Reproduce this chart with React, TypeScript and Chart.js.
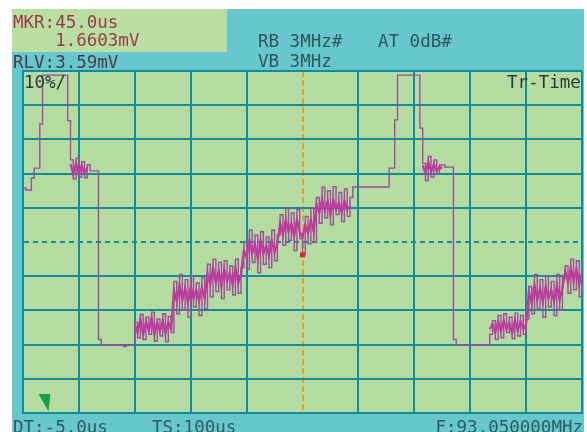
import { useEffect, useRef } from "react";
import { Chart, registerables } from "chart.js";

Chart.register(...registerables);

// Sweep and marker settings
const SWEEP_START_US = -5;
const SWEEP_SPAN_US = 100;
const SAMPLE_STEP_US = 0.5;
const RLV_MV = 3.59;
const MKR_TIME_US = 45.0;
const MKR_MV = 1.6603;

// Zero-span trace (peak samples) in % of reference level, one sample every 0.5 µs from -5 µs
const TRACE_PCT = [
  65.8, 65.2, 65.2, 68.7, 71.6, 71.6, 84.5, 98.8, 98.8, 98.8, // -5.0 .. -0.5
  98.8, 98.8, 98.8, 98.8, 98.8, 98.8, 85.5, 74.0, 68.5, 74.5, // 0.0 .. 4.5
  69.0, 73.5, 68.8, 72.5, 70.8, 70.8, 70.8, 21.5, 19.9, 19.9, // 5.0 .. 9.5
  19.9, 19.9, 19.9, 19.9, 19.9, 19.9, 19.4, 19.9, 19.9, 19.9, // 10.0 .. 14.5
  26.5, 22.0, 28.8, 21.5, 28.0, 23.0, 29.5, 21.0, 27.5, 22.5, // 15.0 .. 19.5
  29.0, 20.8, 28.2, 23.5, 38.5, 29.0, 40.5, 30.0, 39.0, 28.0, // 20.0 .. 24.5
  40.0, 31.0, 38.0, 28.5, 39.5, 30.5, 43.5, 34.0, 45.0, 35.5, // 25.0 .. 29.5
  44.0, 33.5, 44.5, 36.0, 43.0, 34.5, 45.0, 35.0, 42.5, 50.0, // 30.0 .. 34.5
  42.0, 53.5, 44.0, 52.0, 41.0, 53.0, 43.5, 51.5, 42.5, 53.5, // 35.0 .. 39.5
  44.5, 52.0, 58.0, 49.0, 60.0, 50.5, 58.5, 47.5, 59.5, 51.0, // 40.0 .. 44.5
  46.25, 57.5, 49.5, 60.0, 50.0, 63.0, 55.5, 66.0, 57.0, 65.0, // 45.0 .. 49.5
  55.0, 66.2, 58.0, 64.5, 56.0, 65.5, 57.5, 63.0, 66.1, 66.1, // 50.0 .. 54.5
  66.1, 66.1, 66.1, 66.1, 66.1, 66.1, 66.1, 66.1, 66.1, 66.1, // 55.0 .. 59.5
  66.1, 71.6, 71.6, 85.7, 98.8, 98.8, 98.8, 98.8, 98.8, 98.8, // 60.0 .. 64.5
  98.8, 98.8, 83.3, 73.0, 68.0, 75.0, 69.0, 74.0, 70.0, 72.5, // 65.0 .. 69.5
  72.5, 71.9, 71.9, 71.9, 21.5, 19.9, 19.9, 19.9, 19.9, 19.9, // 70.0 .. 74.5
  19.9, 19.9, 19.9, 19.9, 19.9, 19.9, 19.9, 23.0, 27.0, 21.5, // 75.0 .. 79.5
  28.5, 22.0, 29.0, 23.5, 28.0, 21.8, 29.2, 22.5, 28.5, 23.0, // 80.0 .. 84.5
  27.5, 37.0, 29.0, 40.5, 30.5, 39.0, 28.0, 40.0, 31.0, 38.5, // 85.0 .. 89.5
  28.5, 40.5, 30.0, 39.5, 43.0, 35.0, 45.0, 36.0, 44.5, 34.0, // 90.0 .. 94.5
  43.5, // 95.0
];

// Dense centre of the burst / staircase modulation, same time grid (null = no modulation)
const CORE_PCT = [
  null, null, null, null, null, null, null, null, null, null, // -5.0 .. -0.5
  null, null, null, null, null, null, null, 72.8, 69.8, 73.0, // 0.0 .. 4.5
  70.0, 72.5, 70.2, 71.8, null, null, null, null, null, null, // 5.0 .. 9.5
  null, null, null, null, null, null, null, null, null, null, // 10.0 .. 14.5
  26.0, 23.5, 27.5, 22.8, 26.8, 24.0, 27.8, 23.0, 26.5, 23.8, // 15.0 .. 19.5
  27.0, 23.2, 26.5, 24.5, 36.0, 32.5, 37.5, 33.0, 36.5, 32.0, // 20.0 .. 24.5
  37.0, 33.5, 36.0, 32.8, 36.8, 33.5, 41.0, 37.5, 42.5, 38.0, // 25.0 .. 29.5
  41.5, 37.0, 42.0, 38.5, 41.0, 37.5, 42.5, 38.0, 40.5, 47.5, // 30.0 .. 34.5
  45.5, 50.5, 46.5, 49.5, 45.0, 50.5, 46.5, 49.0, 46.0, 50.5, // 35.0 .. 39.5
  47.0, 49.5, 55.5, 52.0, 56.5, 53.0, 55.5, 51.5, 56.5, 53.0, // 40.0 .. 44.5
  51.5, 55.0, 52.5, 56.5, 53.0, 61.0, 58.5, 62.5, 59.0, 62.0, // 45.0 .. 49.5
  58.0, 62.5, 59.5, 61.5, 58.5, 62.0, 59.5, 60.5, null, null, // 50.0 .. 54.5
  null, null, null, null, null, null, null, null, null, null, // 55.0 .. 59.5
  null, null, null, null, null, null, null, null, null, null, // 60.0 .. 64.5
  null, null, null, 72.5, 70.0, 73.5, 70.5, 72.8, 70.8, 72.0, // 65.0 .. 69.5
  71.5, null, null, null, null, null, null, null, null, null, // 70.0 .. 74.5
  null, null, null, null, null, null, null, 24.5, 26.0, 23.5, // 75.0 .. 79.5
  26.8, 23.8, 27.0, 24.5, 26.5, 23.2, 27.2, 24.0, 26.8, 24.5, // 80.0 .. 84.5
  26.0, 35.5, 32.0, 37.5, 33.0, 36.5, 32.5, 37.0, 33.5, 36.0, // 85.0 .. 89.5
  32.5, 37.5, 33.0, 36.5, 41.5, 38.0, 42.5, 38.5, 42.0, 37.5, // 90.0 .. 94.5
  41.0, // 95.0
];

// Screen annotations
const HEADER_MARKER = ["MKR:45.0us", "    1.6603mV"];
const HEADER_RLV = "RLV:3.59mV";
const HEADER_RBW = "RB 3MHz#";
const HEADER_ATT = "AT 0dB#";
const HEADER_VBW = "VB 3MHz";
const SCALE_LABEL = "10%/";
const MODE_LABEL = "Tr-Time";
const FOOTER_DELAY = "DT:-5.0us";
const FOOTER_SWEEP = "TS:100us";
const FOOTER_FREQ = "F:93.050000MHz";

const W = 587;
const H = 432;

const CYAN = "#66c7cc";
const PLOT_GREEN = "#b5dca0";
const BOX_GREEN = "#b8dea2";
const GRID = "#128c98";
const MARKER_YELLOW = "#dca52e";
const TRACE = "#9a4e9c";
const CORE = "#c4379f";
const FONT = "'DejaVu Sans Mono', monospace";

const screenPlugin = {
  id: "screen",
  beforeDraw(chart: any) {
    const { ctx, chartArea: a } = chart;
    ctx.save();
    ctx.fillStyle = "#ffffff";
    ctx.fillRect(0, 0, W, H);
    ctx.fillStyle = CYAN;
    ctx.fillRect(12, 9, 572, H - 9);
    ctx.fillStyle = BOX_GREEN;
    ctx.fillRect(12, 9, 215, 43);
    ctx.fillStyle = PLOT_GREEN;
    ctx.fillRect(a.left, a.top, a.right - a.left, a.bottom - a.top);
    ctx.restore();
  },
  afterDatasetsDraw(chart: any) {
    // trigger indicator at the lower left of the graticule
    const { ctx, chartArea: a } = chart;
    ctx.save();
    ctx.fillStyle = "#1c9e52";
    ctx.beginPath();
    ctx.moveTo(a.left + 15.5, a.bottom - 19);
    ctx.lineTo(a.left + 27.5, a.bottom - 19);
    ctx.lineTo(a.left + 25.5, a.bottom - 1.5);
    ctx.closePath();
    ctx.fill();
    ctx.restore();
  },
};

export default function App() {
  const canvasRef = useRef<HTMLCanvasElement | null>(null);

  useEffect(() => {
    const canvas = canvasRef.current;
    if (!canvas) return;
    const onGrid = (vals: (number | null)[]) =>
      vals.map((v, i) => ({ x: SWEEP_START_US + i * SAMPLE_STEP_US, y: v }));
    const markerPoint = [{ x: MKR_TIME_US, y: (MKR_MV / RLV_MV) * 100 }];

    const chart = new Chart(canvas, {
      type: "line",
      data: {
        datasets: [
          {
            label: "Marker",
            data: markerPoint,
            showLine: false,
            pointStyle: "rect",
            pointRadius: 3.5,
            pointBackgroundColor: "#e3232b",
            pointBorderWidth: 0,
          },
          {
            label: "Modulation",
            data: onGrid(CORE_PCT),
            borderColor: CORE,
            borderWidth: 2.2,
            pointRadius: 0,
            spanGaps: false,
            fill: false,
          },
          {
            label: "Trace",
            data: onGrid(TRACE_PCT),
            stepped: true,
            borderColor: TRACE,
            borderWidth: 1.4,
            pointRadius: 0,
            fill: false,
          },
        ],
      },
      options: {
        animation: false,
        responsive: false,
        devicePixelRatio: 1,
        events: [],
        layout: { padding: { left: 23, right: 5, top: 71, bottom: 19 } },
        plugins: {
          legend: { display: false },
          tooltip: { enabled: false },
          title: { display: false },
        },
        scales: {
          x: {
            type: "linear",
            min: SWEEP_START_US,
            max: SWEEP_START_US + SWEEP_SPAN_US,
            ticks: { display: false, stepSize: SWEEP_SPAN_US / 10 },
            grid: {
              color: (c: any) =>
                c.tick && c.tick.value === MKR_TIME_US ? MARKER_YELLOW : GRID,
              lineWidth: 2,
              drawTicks: false,
            },
            border: {
              display: true,
              color: GRID,
              width: 2,
              dash: (c: any) =>
                c.tick && c.tick.value === MKR_TIME_US ? [6, 3] : [],
            },
          },
          y: {
            type: "linear",
            min: 0,
            max: 100,
            ticks: { display: false, stepSize: 10 },
            grid: { color: GRID, lineWidth: 2, drawTicks: false },
            border: {
              display: true,
              color: GRID,
              width: 2,
              dash: (c: any) => (c.tick && c.tick.value === 50 ? [5, 4] : []),
            },
          },
        },
      },
      plugins: [screenPlugin],
    });
    return () => chart.destroy();
  }, []);

  const txt = (s: string, x: number, y: number, fill: string, anchor = "start") => (
    <text
      x={x}
      y={y}
      fill={fill}
      textAnchor={anchor}
      style={{ whiteSpace: "pre" }}
      xmlSpace="preserve"
    >
      {s}
    </text>
  );

  return (
    <div style={{ position: "fixed", left: 0, top: 0, width: W, height: H, background: "#fff" }}>
      <canvas
        ref={canvasRef}
        width={W}
        height={H}
        style={{ position: "absolute", left: 0, top: 0, width: W, height: H }}
      />
      <svg
        width={W}
        height={H}
        style={{ position: "absolute", left: 0, top: 0, pointerEvents: "none" }}
        fontFamily={FONT}
        fontSize={17.5}
      >
        {txt(HEADER_MARKER[0], 13, 28, "#9c3a4a")}
        {txt(HEADER_MARKER[1], 13, 46, "#9c3a4a")}
        {txt(HEADER_RLV, 13, 68, "#4e3a48")}
        {txt(HEADER_RBW, 258, 47, "#2e575c")}
        {txt(HEADER_ATT, 378, 47, "#2e575c")}
        {txt(HEADER_VBW, 258, 67, "#2e575c")}
        {txt(SCALE_LABEL, 24, 88, "#2a3a3c")}
        {txt(MODE_LABEL, 507, 88, "#2a3a3c")}
        {txt(FOOTER_DELAY, 13, 433, "#2e5a62")}
        {txt(FOOTER_SWEEP, 152, 433, "#2e5a62")}
        {txt(FOOTER_FREQ, 583, 433, "#2e5a62", "end")}
      </svg>
    </div>
  );
}
